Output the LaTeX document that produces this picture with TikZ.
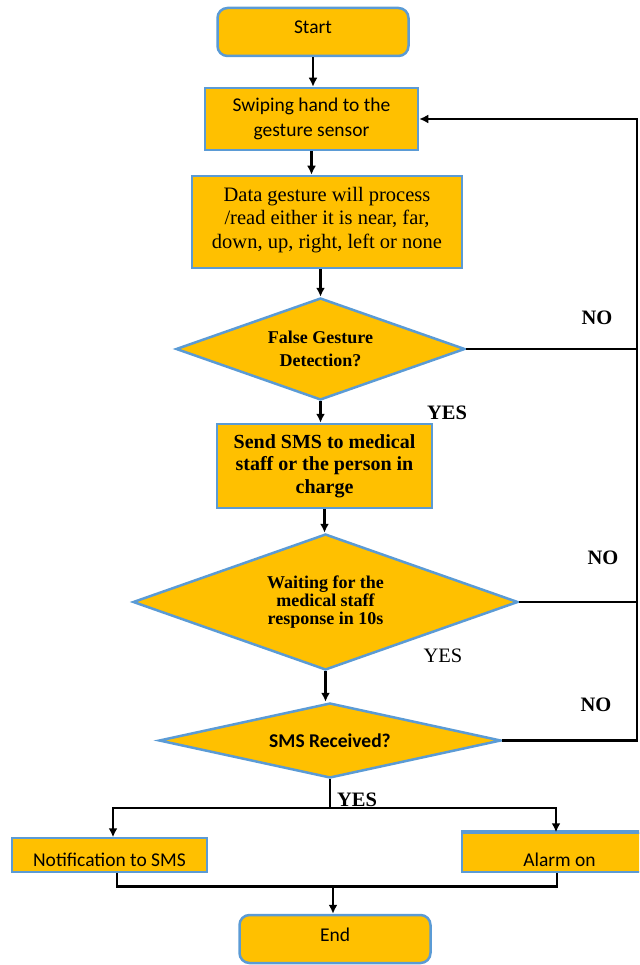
\documentclass[tikz,border=0pt]{standalone}
\usepackage{fontspec}
\setmainfont{Liberation Serif}
\newfontfamily\officesans{Carlito}
\usepackage{xcolor}
\usepackage{tikz}
\usetikzlibrary{arrows.meta,shapes.geometric}
\definecolor{boxfill}{HTML}{FFC000}
\definecolor{boxline}{HTML}{5B9BD5}
\newcommand{\shifttext}[2]{\raisebox{#1}[\height][\depth]{#2}}

\begin{document}
\begin{tikzpicture}[
x=1pt,y=-1pt,
term/.style={draw=boxline,fill=boxfill,line width=2.5pt,rounded corners=10pt,minimum width=191pt,minimum height=48pt,inner sep=0pt,font=\officesans\fontsize{19.5}{23}\selectfont},
proc/.style={draw=boxline,fill=boxfill,line width=2.5pt,align=center,inner sep=0pt},
decision/.style={diamond,draw=boxline,fill=boxfill,line width=2.5pt,align=center,inner sep=0pt},
sanstext/.style={font=\officesans\fontsize{19.5}{25}\selectfont},
arr/.style={-{Latex[length=9pt,width=9pt]},line width=2.6pt},
conn/.style={line width=2.6pt},
lbl/.style={font=\bfseries\fontsize{20.5}{24}\selectfont,inner sep=0pt}
]
\useasboundingbox (0,0) rectangle (639,965);
\clip (0,0) rectangle (639,965);
\node[term] (start) at (313,32) {\shifttext{5pt}{Start}};
\node[proc,sanstext,minimum width=213pt,minimum height=62pt] (swipe) at (311.5,119) {Swiping hand to the\\gesture sensor};
\node[proc,font=\fontsize{20.5}{23.5}\selectfont,minimum width=270pt,minimum height=92pt,text depth=9pt] (data) at (327,222) {Data gesture will process\\/read either it is near, far,\\down, up, right, left or none};
\node[decision,aspect=2.83,font=\bfseries\fontsize{18}{23}\selectfont,minimum width=289pt,minimum height=102pt] (falsegest) at (320.5,349) {False Gesture\\Detection?};
\node[proc,font=\bfseries\fontsize{20}{22.5}\selectfont,minimum width=215pt,minimum height=84pt] (sendsms) at (324.5,466) {Send SMS to medical\\staff or the person in\\charge};
\node[decision,aspect=2.83,font=\bfseries\fontsize{18}{18}\selectfont,minimum width=385pt,minimum height=136pt] (waiting) at (325.5,602) {Waiting for the\\medical staff\\response in 10s};
\node[decision,aspect=4.56,font=\officesans\bfseries\fontsize{19.5}{23}\selectfont,minimum width=342pt,minimum height=75pt] (received) at (330,740.5) {SMS Received?};
\node[proc,sanstext,line width=1.5pt,minimum width=195pt,minimum height=34pt] (notif) at (109.5,855) {\shifttext{-5pt}{Notification to SMS}};
\node[proc,sanstext,line width=1.5pt,minimum width=195pt,minimum height=39pt] (alarm) at (559.5,852.5) {\shifttext{-7pt}{Alarm on}};
\draw[boxline,line width=4pt] (alarm.north west) -- (alarm.north east);
\node[term] (stop) at (335,939) {\shifttext{4pt}{End}};
% branch labels
\node[lbl] (no1) at (597,318) {NO};
\node[lbl] (yes1) at (447,413) {YES};
\node[lbl] (no2) at (603,558) {NO};
\node[lbl,font=\fontsize{20.5}{24}\selectfont] (yes2) at (443,656) {YES};
\node[lbl] (no3) at (596,705) {NO};
\node[lbl] (yes3) at (357,800) {YES};
\coordinate (rail) at (637,120);
\coordinate (fork) at (330,808);
\coordinate (merge) at (333,886);
% main flow
\draw[arr] (start.south) -- (start.south |- swipe.north);
\draw[arr] (swipe.south) -- (swipe.south |- data.north);
\draw[arr] (data.south -| falsegest.north) -- (falsegest.north);
\draw[arr] (falsegest.south) -- (falsegest.south |- sendsms.north);
\draw[arr] (sendsms.south) -- (sendsms.south |- waiting.north);
\draw[arr] (waiting.south) -- (waiting.south |- received.north);
% NO loop back
\draw[conn] (falsegest.east) -- (falsegest.east -| rail);
\draw[conn] (waiting.east) -- (waiting.east -| rail);
\draw[arr] (received.east) -- (received.east -| rail) |- (swipe.east);
% YES branches
\draw[conn] (received.south) -- (fork);
\draw[arr] (fork) -| ([xshift=3.5pt]notif.north);
\draw[arr] (fork) -| ([xshift=-3.5pt]alarm.north);
\draw[conn] ([xshift=7.5pt]notif.south) -- ++(0,14) -| ([xshift=-2.5pt]alarm.south);
\draw[arr] (merge) -- (merge |- stop.north);
\end{tikzpicture}
\end{document}
